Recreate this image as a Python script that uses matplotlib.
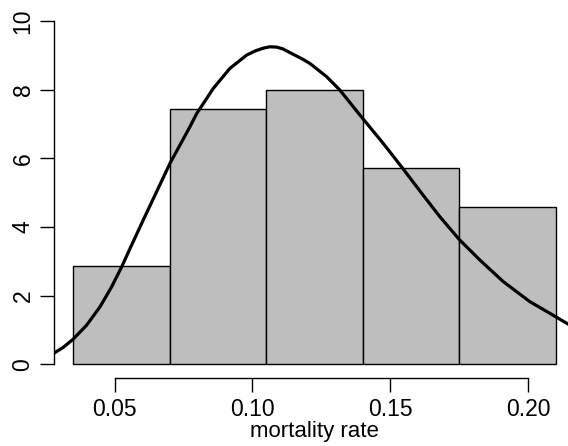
import matplotlib.pyplot as plt

plt.rcParams['font.family'] = ['Liberation Sans', 'DejaVu Sans']

# histogram (density scale)
breaks = [0.035, 0.070, 0.105, 0.140, 0.175, 0.210]
density = [2.857, 7.429, 8.000, 5.714, 4.571]

# fitted density curve
curve_x = [0.0280, 0.0314, 0.0350, 0.0399, 0.0447, 0.0489, 0.0526, 0.0556,
           0.0604, 0.0701, 0.0737, 0.0773, 0.0798, 0.0858, 0.0918, 0.0979,
           0.1010, 0.1039, 0.1063, 0.1088, 0.1110, 0.1148, 0.1180, 0.1209,
           0.1269, 0.1317, 0.1390, 0.1474, 0.1545, 0.1619, 0.1680, 0.1750,
           0.1825, 0.1910, 0.2006, 0.2100, 0.2144, 0.2170]
curve_y = [0.33, 0.50, 0.74, 1.15, 1.68, 2.26, 2.85, 3.38,
           4.21, 5.86, 6.39, 6.92, 7.31, 8.04, 8.62, 9.01,
           9.13, 9.21, 9.25, 9.24, 9.19, 9.03, 8.90, 8.76,
           8.38, 7.99, 7.26, 6.44, 5.71, 4.93, 4.30, 3.64,
           3.04, 2.41, 1.83, 1.39, 1.18, 1.08]

xticks = [0.05, 0.10, 0.15, 0.20]
yticks = [0, 2, 4, 6, 8, 10]

fig = plt.figure(figsize=(5.68, 4.46), dpi=100)
ax = fig.add_axes([54 / 568, 67.8 / 446, 521 / 568, 370.9 / 446])

lefts = breaks[:-1]
widths = [b - a for a, b in zip(breaks[:-1], breaks[1:])]
ax.bar(lefts, density, width=widths, align='edge', color='#BEBEBE',
       edgecolor='black', linewidth=1.0)
ax.plot(curve_x, curve_y, color='black', linewidth=2.3,
        solid_joinstyle='round', solid_capstyle='round')

ax.set_xlim(0.028, 0.217)
ax.set_ylim(-0.4, 10.4)

for s in ['top', 'right']:
    ax.spines[s].set_visible(False)
ax.spines['left'].set_bounds(0, 10)
ax.spines['bottom'].set_bounds(0.05, 0.20)
ax.spines['left'].set_linewidth(1.0)
ax.spines['bottom'].set_linewidth(1.0)

ax.set_xticks(xticks)
ax.set_xticklabels(['%.2f' % v for v in xticks])
ax.set_yticks(yticks)
ax.set_yticklabels([str(v) for v in yticks], rotation=90, va='center')
ax.tick_params(axis='both', length=10, width=1.0, labelsize=16.5, pad=4)

ax.set_xlabel('mortality rate', fontsize=16, labelpad=0.5)

plt.savefig('out.png', dpi=100)
plt.close()
